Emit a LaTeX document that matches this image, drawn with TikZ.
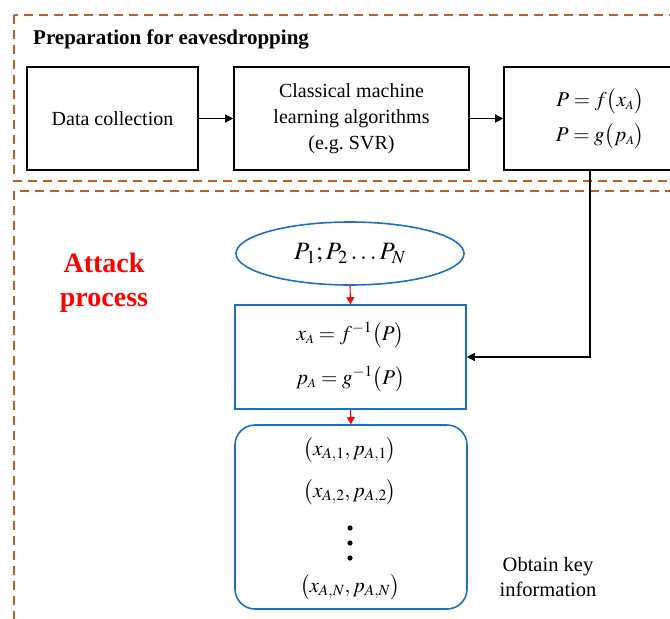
\documentclass[tikz,border=0pt]{standalone}
\usepackage{mathptmx}
\usepackage{fontspec}
\setmainfont{Liberation Serif}
\usetikzlibrary{shapes.geometric,arrows.meta}
\definecolor{frameorange}{RGB}{192,96,32}
\definecolor{flowblue}{RGB}{30,112,190}
\tikzset{
  blk/.style={draw=black, line width=1.6pt, align=center, inner sep=2pt, font=\fontsize{20}{26}\selectfont},
  frame/.style={draw=frameorange, line width=1.2pt, dash pattern=on 9pt off 6pt},
  bluebox/.style={draw=flowblue, line width=1.6pt, align=center},
  blackarrow/.style={-{Triangle[length=8pt,width=8pt]}, line width=1.3pt},
  redarrow/.style={-{Triangle[length=7pt,width=8pt]}, draw=red, fill=red, line width=1.1pt},
  pairtxt/.style={font=\fontsize{21}{24}\selectfont, inner sep=0pt},
}
\begin{document}
\begin{tikzpicture}[x=1pt,y=-1pt]
\useasboundingbox (0,0) rectangle (670,619);
% dashed frames of the two stages
\draw[frame] (14,15) rectangle (690,181);
\draw[frame] (14,191) rectangle (690,640);
\node[anchor=west, font=\bfseries\fontsize{21}{24}\selectfont, inner sep=0pt] (prep) at (33,39) {Preparation for eavesdropping};
% preparation stage
\node[blk, minimum width=171pt, minimum height=103pt] (dc) at (112.5,118.5) {Data collection};
\node[blk, minimum width=235pt, minimum height=103pt] (ml) at (351.5,118.5) {Classical machine\\learning algorithms\\(e.g.\ SVR)};
\node[blk, minimum width=192pt, minimum height=103pt, font=\fontsize{21}{35}\selectfont] (fn) at (600,118.5)
  {$P=f\bigl(x_{\scriptscriptstyle A}\bigr)$\\$P=g\bigl(p_{\scriptscriptstyle A}\bigr)$};
\draw[blackarrow] (dc) -- (ml);
\draw[blackarrow] (ml) -- (fn);
% attack stage
\node[font=\bfseries\fontsize{28}{34}\selectfont, text=red, align=center] (atk) at (104,283) {Attack\\process};
\node[ellipse, bluebox, minimum width=228pt, minimum height=63pt, font=\fontsize{25}{28}\selectfont] (pn) at (350,253.5)
  {$P_1;P_2\ldots P_N$};
\node[bluebox, minimum width=231pt, minimum height=104pt, font=\fontsize{21}{44}\selectfont] (inv) at (350.5,357)
  {$x_{\scriptscriptstyle A}=f^{-1}\bigl(P\bigr)$\\$p_{\scriptscriptstyle A}=g^{-1}\bigl(P\bigr)$};
\node[bluebox, rounded corners=20pt, minimum width=232pt, minimum height=184pt] (keys) at (351,517) {};
\node[pairtxt] (k1) at (350,450) {$\bigl(x_{A,1},p_{A,1}\bigr)$};
\node[pairtxt] (k2) at (350,492) {$\bigl(x_{A,2},p_{A,2}\bigr)$};
\node[pairtxt] (kn) at (350,587) {$\bigl(x_{A,N},p_{A,N}\bigr)$};
\foreach \yy/\nm in {528/d1,543/d2,558/d3}
  \fill (350,\yy) circle[radius=2.6pt] coordinate (\nm);
\node[font=\fontsize{20.5}{25}\selectfont, align=center] (obt) at (548,577) {Obtain key\\information};
\draw[redarrow] (pn.south) -- (inv.north);
\draw[redarrow] (inv.south) -- (keys.north);
% feedback from the fitted models into the inversion step
\coordinate (drop) at (590,170);
\draw[blackarrow] (drop) |- (inv.east);
\end{tikzpicture}
\end{document}
